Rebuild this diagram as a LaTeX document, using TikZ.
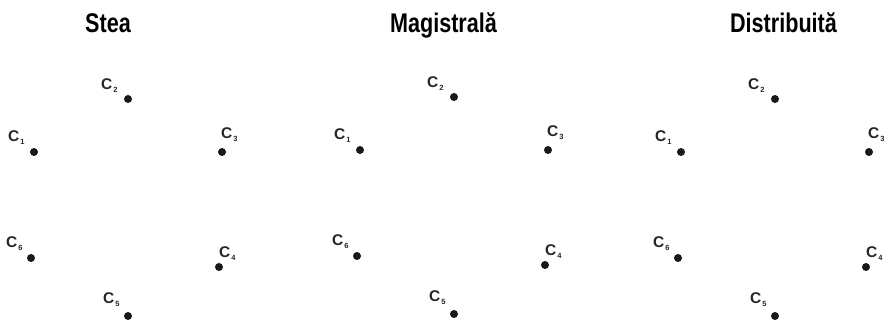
\documentclass[tikz,border=0pt]{standalone}
\usepackage{fontspec}
\setmainfont{Liberation Sans}
\begin{document}
\begin{tikzpicture}[x=1pt,y=-1pt,
  dot/.style={circle,fill=black!90,inner sep=0pt,minimum size=8pt},
  clabel/.style={inner sep=0pt,anchor=base west,text=black!85,font=\fontsize{15.5}{15.5}\selectfont\bfseries},
  ttl/.style={inner sep=0pt,anchor=base,font=\fontsize{27}{27}\selectfont\bfseries}]
\newcommand{\clab}[1]{C\kern1pt\raisebox{-2.5pt}{\fontsize{7.5}{7.5}\selectfont\bfseries #1}}
\useasboundingbox (0,0) rectangle (889,320);
\fill[white] (0,0) rectangle (889,320);
\foreach \p/\dx/\dy/\t/\tx in {s/0/0/Stea/108, m/326/-2/Magistrală/443.5, d/647/0/Distribuită/783.5}{
  \node[ttl] (\p-title) at (\tx,33) {\scalebox{0.8}[1]{\t}};
  \begin{scope}[shift={(\dx,\dy)}]
    \node[dot] (\p-c1) at (34,152) {};
    \node[dot] (\p-c2) at (128,99) {};
    \node[dot] (\p-c3) at (222,152) {};
    \node[dot] (\p-c4) at (219,267) {};
    \node[dot] (\p-c5) at (128,316) {};
    \node[dot] (\p-c6) at (31,258) {};
  \end{scope}
  \node[clabel,xshift=-26pt,yshift=10pt] (\p-l1) at (\p-c1.center) {\clab{1}};
  \node[clabel,xshift=-27pt,yshift=9pt] (\p-l2) at (\p-c2.center) {\clab{2}};
  \node[clabel,xshift=-1pt,yshift=13pt] (\p-l3) at (\p-c3.center) {\clab{3}};
  \node[clabel,xshift=0pt,yshift=9pt] (\p-l4) at (\p-c4.center) {\clab{4}};
  \node[clabel,xshift=-25pt,yshift=12pt] (\p-l5) at (\p-c5.center) {\clab{5}};
  \node[clabel,xshift=-25pt,yshift=10pt] (\p-l6) at (\p-c6.center) {\clab{6}};
}
\end{tikzpicture}
\end{document}
